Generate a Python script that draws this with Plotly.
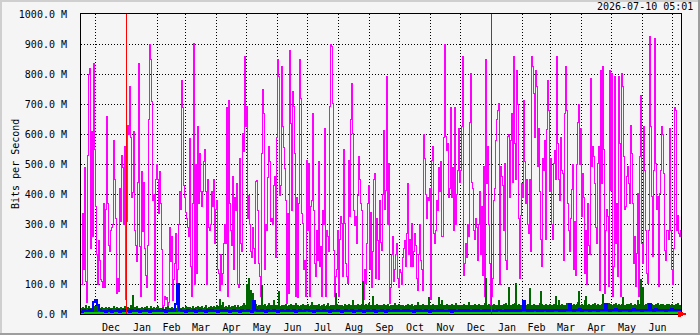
import plotly.graph_objects as go
import pandas as pd

# ---------------- data ----------------
START = "2024-11-16 12:00"
END = "2026-07-09 12:00"
TIMESTAMP = "2026-07-10 05:01"
Y_TITLE = "Bits per Second"

# magenta (peak) series, Mbit/s, one value per day
peak_out = [
    100, 335, 150, 490, 110, 40, 530, 800, 820, 220,
    610, 260, 835, 550, 360, 200, 100, 245, 180, 115,
    110, 90, 370, 90, 350, 660, 370, 230, 210, 280,
    290, 300, 580, 450, 320, 70, 120, 75, 420, 310,
    530, 490, 300, 560, 50, 310, 630, 600, 760, 590,
    390, 405, 610, 280, 230, 175, 440, 835, 225, 60,
    475, 275, 440, 220, 130, 90, 230, 650, 900, 850,
    710, 380, 400, 45, 450, 500, 450, 335, 475, 370,
    215, 20, 30, 60, 50, 55, 30, 40, 290, 175,
    260, 45, 115, 170, 270, 100, 150, 300, 410, 350,
    # 100-199
    780, 690, 430, 390, 340, 320, 290, 260, 585, 158,
    58, 370, 902, 100, 500, 135, 624, 370, 535, 410,
    360, 410, 508, 547, 410, 100, 447, 290, 280, 300,
    410, 360, 450, 235, 347, 380, 150, 135, 80, 200,
    100, 135, 235, 300, 235, 690, 60, 713, 370, 280,
    230, 458, 150, 390, 345, 435, 100, 90, 520, 235,
    210, 602, 541, 858, 625, 691, 320, 395, 300, 210,
    190, 290, 220, 170, 441, 445, 345, 170, 125, 60,
    535, 747, 670, 150, 300, 280, 455, 558, 510, 310,
    320, 300, 430, 460, 190, 590, 847, 791, 395, 430,
    # 200-299
    824, 624, 555, 486, 380, 35, 335, 70, 880, 635,
    345, 741, 691, 535, 60, 390, 55, 369, 847, 719,
    335, 302, 147, 180, 60, 513, 280, 502, 60, 358,
    380, 667, 345, 169, 124, 280, 180, 508, 158, 224,
    60, 346, 300, 619, 60, 280, 258, 210, 691, 897,
    891, 702, 213, 60, 124, 147, 280, 60, 247, 324,
    302, 124, 547, 302, 169, 124, 102, 513, 324, 647,
    769, 602, 346, 296, 324, 235, 396, 524, 447, 369,
    346, 102, 47, 147, 102, 235, 368, 427, 150, 340,
    90, 210, 450, 470, 120, 320, 245, 115, 380, 240,
    # 300-399
    213, 400, 613, 350, 413, 791, 300, 502, 35, 90,
    200, 260, 110, 150, 200, 235, 120, 90, 150, 140,
    100, 190, 220, 245, 160, 270, 435, 200, 250, 160,
    302, 160, 210, 270, 230, 120, 80, 200, 300, 180,
    150, 80, 597, 520, 400, 320, 390, 380, 420, 50,
    513, 558, 270, 235, 280, 380, 345, 490, 410, 510,
    260, 260, 590, 900, 591, 546, 570, 390, 420, 690,
    390, 490, 280, 690, 300, 400, 480, 620, 440, 480,
    624, 858, 130, 170, 235, 190, 300, 260, 640, 802,
    440, 420, 280, 250, 320, 290, 180, 300, 410, 200,
    # 400-499
    358, 130, 491, 60, 847, 435, 558, 300, 170, 30,
    60, 120, 380, 420, 580, 647, 680, 702, 100, 491,
    460, 430, 280, 502, 180, 150, 591, 600, 390, 580,
    668, 440, 858, 570, 450, 813, 700, 320, 120, 330,
    435, 390, 713, 510, 370, 450, 300, 270, 450, 210,
    858, 824, 735, 590, 813, 760, 491, 620, 410, 247,
    160, 520, 480, 580, 247, 615, 780, 680, 410, 520,
    300, 250, 502, 545, 450, 858, 570, 450, 380, 590,
    480, 470, 180, 668, 824, 680, 370, 280, 210, 320,
    415, 500, 150, 310, 130, 500, 640, 700, 500, 620,
    # 500-599
    324, 469, 390, 135, 280, 100, 370, 230, 200, 785,
    491, 558, 524, 435, 290, 235, 502, 558, 80, 813,
    435, 824, 547, 68, 280, 347, 324, 91, 813, 413,
    802, 58, 158, 791, 235, 369, 124, 791, 569, 58,
    802, 758, 524, 347, 358, 458, 491, 435, 369, 630,
    535, 369, 169, 258, 91, 202, 402, 58, 524, 730,
    235, 169, 624, 480, 280, 135, 102, 280, 924, 624,
    391, 191, 480, 918, 502, 347, 391, 91, 402, 480,
    624, 600, 469, 213, 180, 280, 280, 250, 620, 280,
    150, 100, 220, 690, 680, 280, 330, 270, 260, 280,
]

# dark green (filled) series, Mbit/s, one value per day
avg_in = [
    18, 22, 15, 20, 30, 14, 17, 25, 12, 19, 16, 21, 13, 24, 18, 25, 15, 20, 14, 17,
    22, 13, 18, 16, 21, 14, 19, 23, 12, 17, 20, 15, 24, 13, 18, 21, 16, 19, 14, 22,
    17, 20, 13, 25, 16, 18, 22, 14, 19, 30, 17, 63, 15, 21, 18, 24, 13, 20, 16, 19,
    23, 14, 18, 21, 15, 26, 17, 20, 13, 24, 19, 16, 22, 18, 14, 21, 25, 17, 20, 15,
    19, 23, 16, 14, 21, 18, 25, 13, 20, 17, 22, 15, 19, 24, 16, 18, 35, 21, 14, 20,
    17, 22, 19, 15, 24, 18, 21, 16, 23, 14, 20, 26, 17, 19, 22, 15, 25, 18, 21, 16,
    24, 19, 17, 22, 28, 16, 20, 23, 18, 25, 21, 17, 26, 19, 22, 30, 18, 24, 50, 27,
    20, 40, 23, 18, 26, 21, 19, 28, 22, 17, 25, 20, 24, 30, 19, 23, 27, 21, 18, 26,
    22, 28, 35, 24, 30, 100, 45, 120, 55, 80, 40, 70, 28, 24, 32, 26, 22, 29, 25, 30,
    95, 27, 23, 31, 26, 22, 28, 35, 24, 30, 21, 27, 45, 25, 29, 23, 28, 75, 26, 22,
    30, 24, 27, 21, 33, 26, 23, 29, 25, 31, 22, 28, 24, 27, 36, 23, 30, 26, 22, 28,
    25, 31, 23, 27, 29, 24, 32, 26, 22, 28, 40, 25, 30, 23, 27, 29, 24, 33, 26, 21,
    28, 24, 31, 26, 23, 29, 35, 25, 22, 30, 27, 24, 28, 26, 70, 31, 23, 29, 25, 27,
    30, 24, 26, 33, 28, 22, 27, 31, 25, 29, 24, 45, 26, 30, 23, 28, 32, 25, 27, 24,
    33, 110, 29, 26, 31, 24, 28, 35, 27, 25, 30, 60, 26, 29, 24, 32, 27, 25, 30, 23,
    28, 26, 31, 24, 29, 27, 33, 25, 22, 30, 26, 28, 24, 35, 27, 23, 29, 31, 25, 28,
    24, 30, 26, 23, 29, 27, 32, 25, 28, 24, 31, 26, 22, 30, 27, 25, 40, 28, 24, 29,
    26, 31, 23, 28, 25, 30, 27, 55, 24, 29, 26, 32, 25, 28, 23, 30, 27, 55, 26, 31,
    45, 28, 24, 30, 26, 33, 27, 25, 29, 23, 31, 26, 28, 24, 35, 27, 30, 25, 28, 26,
    29, 24, 31, 27, 25, 30, 26, 40, 28, 23, 30, 27, 25, 32, 26, 29, 24, 31, 27, 25,
    30, 26, 28, 35, 120, 29, 25, 31, 27, 24, 30, 26, 33, 28, 25, 29, 27, 45, 26, 30,
    28, 25, 31, 27, 36, 29, 26, 90, 30, 27, 24, 32, 28, 35, 103, 29, 26, 31, 27, 25,
    30, 28, 26, 33, 29, 25, 31, 27, 85, 30, 26, 28, 32, 27, 25, 30, 29, 26, 34, 75,
    31, 27, 29, 25, 33, 28, 30, 26, 32, 27, 29, 25, 31, 28, 60, 30, 26, 45, 29, 27,
    33, 28, 26, 30, 27, 35, 29, 25, 32, 28, 30, 26, 33, 29, 27, 31, 40, 75, 30, 26,
    32, 28, 30, 45, 60, 29, 27, 33, 26, 30, 28, 31, 27, 35, 29, 26, 32, 28, 30, 27,
    33, 65, 29, 31, 27, 30, 26, 34, 28, 32, 29, 27, 31, 28, 35, 30, 26, 33, 29, 27,
    31, 55, 28, 30, 26, 33, 29, 31, 27, 35, 28, 30, 26, 32, 29, 27, 45, 31, 28, 115,
    33, 90, 30, 27, 32, 29, 35, 28, 31, 26, 33, 29, 30, 27, 32, 28, 34, 30, 26, 31,
    29, 33, 27, 30, 28, 32, 26, 31, 29, 27, 33, 28, 30, 26, 32, 29, 35, 27, 30, 28,
]

# blue series, Mbit/s, one value per 2 days
avg_out = [
    8, 12, 10, 9, 15, 11, 40, 47, 30, 12, 9, 11, 7, 10, 13, 8, 11, 9, 12, 7,
    10, 14, 9, 11, 8, 13, 9, 10, 12, 7, 11, 9, 14, 10, 8, 12, 9, 11, 13, 10,
    9, 12, 8, 11, 10, 14, 9, 35, 100, 12, 9, 11, 8, 13, 10, 9, 12, 7, 10, 14,
    9, 11, 8, 12, 10, 13, 9, 11, 7, 10, 12, 9, 14, 11, 8, 10, 13, 9, 11, 8,
    12, 10, 9, 14, 11, 8, 45, 12, 10, 9, 14, 11, 8, 12, 10, 9, 13, 11, 8, 10,
    12, 9, 11, 14, 9, 10, 12, 8, 11, 13, 9, 10, 12, 15, 9, 11, 8, 10, 13, 9,
    11, 12, 9, 10, 8, 12, 11, 9, 13, 10, 8, 11, 12, 9, 10, 14, 8, 11, 9, 12,
    10, 8, 11, 13, 9, 10, 12, 8, 11, 9, 13, 10, 8, 12, 11, 9, 14, 10, 12, 9,
    11, 13, 10, 12, 9, 11, 8, 13, 10, 12, 9, 11, 14, 10, 8, 12, 11, 9, 13, 10,
    12, 9, 11, 10, 13, 8, 12, 10, 11, 14, 9, 12, 10, 13, 11, 9, 12, 10, 14, 11,
    10, 13, 11, 12, 9, 14, 11, 10, 13, 12, 9, 11, 14, 10, 12, 11, 13, 9, 12, 10,
    14, 42, 12, 10, 13, 11, 15, 12, 10, 14, 11, 13, 12, 10, 15, 11, 13, 12, 14, 10,
    13, 11, 15, 12, 35, 14, 11, 13, 12, 16, 10, 14, 12, 13, 11, 15, 12, 14, 10, 13,
    12, 15, 35, 13, 11, 14, 12, 16, 13, 11, 14, 12, 15, 13, 11, 14, 16, 12, 13, 15,
    11, 14, 12, 15, 35, 13, 11, 16, 12, 14, 13, 15, 11, 14, 12, 16, 13, 14, 12, 15,
]

# light green floor line, Mbit/s, one value per 60 days
floor_line = [3, 3, 3, 3, 3, 3, 3, 3, 3, 3]

y_ticks = [0, 100, 200, 300, 400, 500, 600, 700, 800, 900, 1000]
month_labels = ["Dec", "Jan", "Feb", "Mar", "Apr", "May", "Jun", "Jul", "Aug", "Sep",
                "Oct", "Nov", "Dec", "Jan", "Feb", "Mar", "Apr", "May", "Jun"]
FIRST_MONTH = "2024-12-01"

# ---------------- style ----------------
BG = "#f5f5f5"
FONT = "DejaVu Sans Mono"
MAGENTA = "#ff00ff"
GREEN = "#006600"
BLUE = "#0000ff"
LIME = "#00cc00"

W, H = 700, 335
L, R, T, B = 81, 19, 14, 21


def step_x(n, freq):
    return pd.date_range(START, periods=n + 1, freq=freq)


fig = go.Figure()

fig.add_trace(go.Scatter(
    x=step_x(len(peak_out), "D"), y=peak_out + [peak_out[-1]],
    mode="lines", line=dict(color=MAGENTA, width=1, shape="hv"),
    hoverinfo="skip", showlegend=False))

fig.add_trace(go.Scatter(
    x=step_x(len(avg_in), "D"), y=avg_in + [avg_in[-1]],
    mode="lines", line=dict(color=GREEN, width=1, shape="hv"),
    fill="tozeroy", fillcolor=GREEN, hoverinfo="skip", showlegend=False))

fig.add_trace(go.Scatter(
    x=step_x(len(floor_line), "60D"), y=floor_line + [floor_line[-1]],
    mode="lines", line=dict(color=LIME, width=2, shape="hv"),
    hoverinfo="skip", showlegend=False))

fig.add_trace(go.Scatter(
    x=step_x(len(avg_out), "2D"), y=avg_out + [avg_out[-1]],
    mode="lines", line=dict(color=BLUE, width=2, shape="hv"),
    hoverinfo="skip", showlegend=False))

month_starts = pd.date_range(FIRST_MONTH, periods=len(month_labels) + 1, freq="MS")
month_mids = [month_starts[i] + (month_starts[i + 1] - month_starts[i]) / 2
              for i in range(len(month_labels))]
grid_months = [m for m in month_starts if m.month != 1]
year_starts = [m for m in month_starts if m.month == 1]

fig.update_xaxes(
    range=[START, END], type="date", automargin=False,
    tickmode="array", tickvals=month_mids, ticktext=month_labels,
    ticks="", showgrid=False, ticklabelstandoff=4,
    minor=dict(tickmode="array", tickvals=grid_months, showgrid=True,
               gridcolor="black", griddash="1px,2px", gridwidth=1, ticks=""),
    showline=True, linecolor="black", linewidth=1, mirror=True,
    zeroline=False, tickfont=dict(family=FONT, size=10, color="black"),
)
fig.update_yaxes(
    range=[0, 1000], automargin=False, tickmode="array", tickvals=y_ticks,
    ticktext=[f"{v:.1f} M" for v in y_ticks],
    ticks="", ticklabelstandoff=11,
    showgrid=True, gridcolor="black", griddash="1px,2px", gridwidth=1,
    showline=True, linecolor="black", linewidth=1, mirror=True,
    zeroline=False, tickfont=dict(family=FONT, size=10, color="black"),
)

shapes = []
for ys in year_starts:
    shapes.append(dict(type="line", xref="x", yref="paper", x0=ys, x1=ys, y0=0, y1=1,
                       line=dict(color="#ff0000", width=1), layer="above"))

# arrow at the end of the time axis
shapes.append(dict(type="path", xref="paper", yref="paper", xsizemode="pixel",
                   ysizemode="pixel", xanchor=1, yanchor=0,
                   path="M -3,-3 L 5,0 L -3,3 Z", fillcolor="#ff0000",
                   line=dict(color="#ff0000", width=1), layer="above"))


def px(xp):
    return (xp - L) / (W - L - R)


def py(yp):
    return (H - B - yp) / (H - T - B)


# 3D border of the image
shapes += [
    dict(type="rect", xref="paper", yref="paper", x0=px(0), x1=px(W), y0=py(2), y1=py(0),
         fillcolor="#cfcfcf", line=dict(width=0), layer="above"),
    dict(type="rect", xref="paper", yref="paper", x0=px(0), x1=px(2), y0=py(H), y1=py(0),
         fillcolor="#cfcfcf", line=dict(width=0), layer="above"),
    dict(type="rect", xref="paper", yref="paper", x0=px(0), x1=px(W), y0=py(H), y1=py(H - 2),
         fillcolor="#9e9e9e", line=dict(width=0), layer="above"),
    dict(type="rect", xref="paper", yref="paper", x0=px(W - 2), x1=px(W), y0=py(H), y1=py(0),
         fillcolor="#9e9e9e", line=dict(width=0), layer="above"),
]

annotations = [
    dict(text=Y_TITLE, xref="paper", yref="paper", x=px(15), y=0.5, textangle=-90,
         xanchor="center", yanchor="middle", showarrow=False,
         font=dict(family=FONT, size=10, color="black")),
    dict(text=TIMESTAMP, xref="paper", yref="paper", x=px(695), y=py(7),
         xanchor="right", yanchor="middle", showarrow=False,
         font=dict(family=FONT, size=10, color="black")),
]

fig.update_layout(
    width=W, height=H, margin=dict(l=L, r=R, t=T, b=B, pad=0, autoexpand=False),
    paper_bgcolor=BG, plot_bgcolor=BG,
    shapes=shapes, annotations=annotations, showlegend=False,
    font=dict(family=FONT, size=10, color="black"),
)

CRISP = ("var s=document.createElement('style');"
         "s.textContent='.scatterlayer path, .shapelayer path{shape-rendering:crispEdges}';"
         "document.head.appendChild(s);")

fig.write_html("out.html", post_script=CRISP)
